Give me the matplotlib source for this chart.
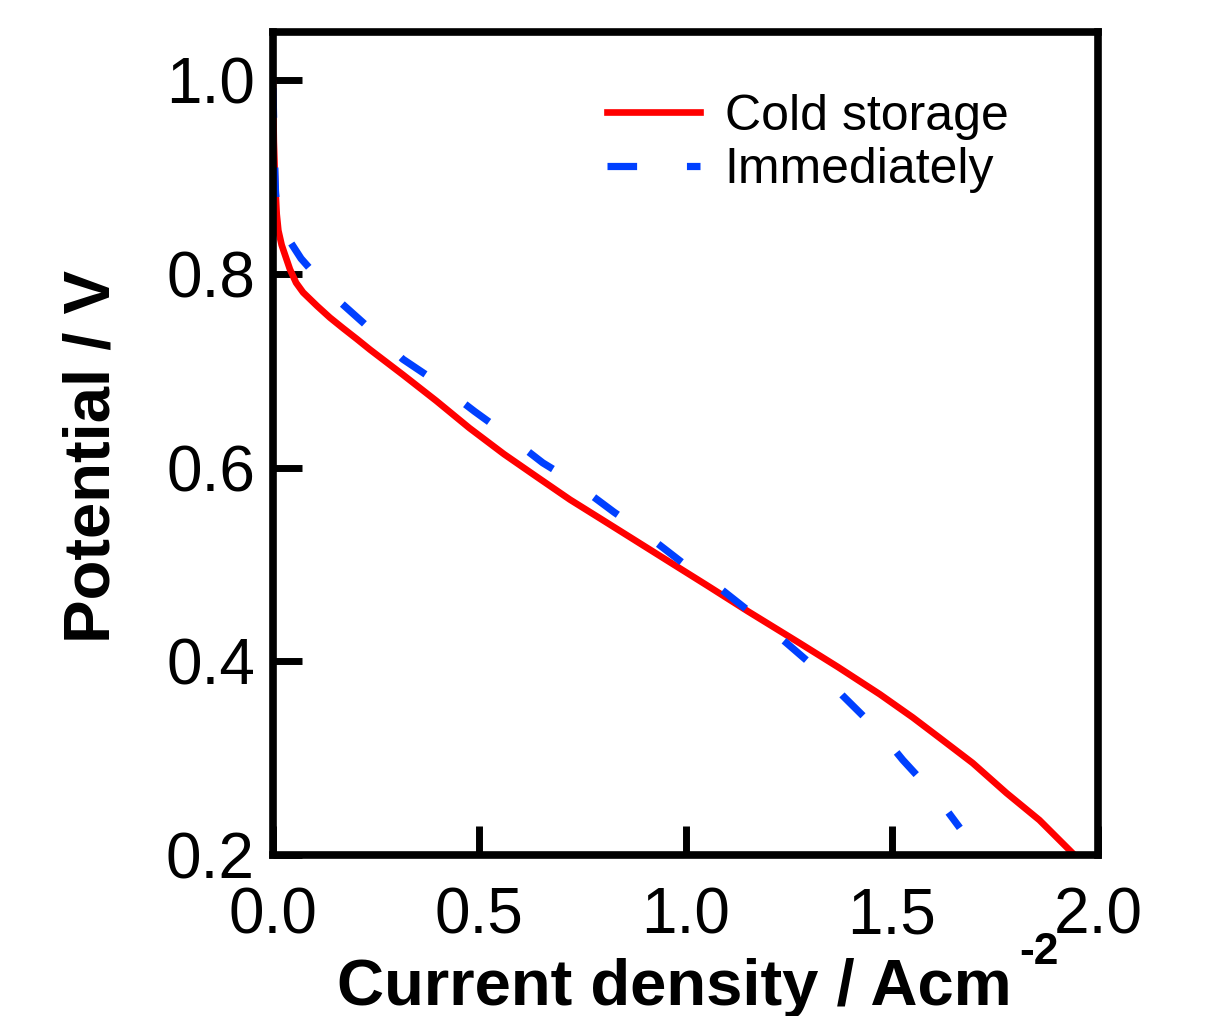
import matplotlib
matplotlib.use("Agg")
import matplotlib.pyplot as plt

plt.rcParams['font.family'] = ['Liberation Sans', 'DejaVu Sans']

# polarization curves
cold_j = [0.000, 0.002, 0.005, 0.009, 0.013, 0.021, 0.041, 0.056, 0.073, 0.107,
          0.138, 0.170, 0.203, 0.235, 0.315, 0.396, 0.476, 0.560, 0.638, 0.720,
          0.799, 0.960, 1.050, 1.150, 1.276, 1.370, 1.471, 1.551, 1.616, 1.696,
          1.778, 1.858, 1.938]
cold_v = [0.997, 0.937, 0.896, 0.862, 0.845, 0.830, 0.805, 0.791, 0.781, 0.767,
          0.755, 0.744, 0.733, 0.722, 0.696, 0.669, 0.641, 0.614, 0.591, 0.567,
          0.546, 0.503, 0.479, 0.452, 0.419, 0.394, 0.366, 0.342, 0.321, 0.295,
          0.264, 0.236, 0.202]

imm_j = [0.000, 0.002, 0.004, 0.006, 0.010, 0.024, 0.068, 0.155, 0.218, 0.315,
         0.385, 0.489, 0.554, 0.654, 0.723, 0.827, 0.892, 0.992, 1.058, 1.162,
         1.223, 1.329, 1.380, 1.477, 1.527, 1.611, 1.665]
imm_v = [0.992, 0.950, 0.917, 0.886, 0.862, 0.845, 0.816, 0.774, 0.750, 0.712,
         0.692, 0.658, 0.638, 0.605, 0.587, 0.554, 0.535, 0.502, 0.484, 0.449,
         0.427, 0.388, 0.365, 0.324, 0.298, 0.259, 0.228]

x_ticks = [0.0, 0.5, 1.0, 1.5, 2.0]
y_ticks = [0.2, 0.4, 0.6, 0.8, 1.0]

fig = plt.figure(figsize=(12.09, 10.16), dpi=100)
ax = fig.add_axes([0.2258, 0.1585, 0.6824, 0.81])

ax.plot(cold_j, cold_v, color='#ff0000', lw=4.8, solid_joinstyle='round',
        label='Cold storage')
ax.plot(imm_j, imm_v, color='#0040ff', lw=5.2, dashes=(4.1, 6.9),
        label='Immediately')

ax.set_xlim(0, 2.0)
ax.set_ylim(0.2, 1.05)
ax.set_xticks(x_ticks)
ax.set_xticklabels(['%.1f' % v for v in x_ticks])
ax.set_yticks(y_ticks)
ax.set_yticklabels(['%.1f' % v for v in y_ticks])

for s in ax.spines.values():
    s.set_linewidth(5.5)
ax.tick_params(axis='both', which='major', direction='in', length=21,
               width=5, labelsize=46)
ax.tick_params(axis='y', pad=13)
ax.tick_params(axis='x', pad=23)

ax.set_xlabel('Current density / Acm', fontsize=47, fontweight='bold')
ax.xaxis.set_label_coords(0.487, -0.125)
ax.text(0.905, -0.118, '-2', transform=ax.transAxes, fontsize=32,
        fontweight='bold', ha='left', va='center')
ax.set_ylabel('Potential / V', fontsize=47, fontweight='bold')
ax.yaxis.set_label_coords(-0.183, 0.484)

ax.legend(loc='upper left', bbox_to_anchor=(0.405, 0.925), frameon=False,
          fontsize=36, handlelength=1.85, handletextpad=0.5, labelspacing=0.15,
          borderpad=0, borderaxespad=0)

fig.savefig('out.png', dpi=100)
